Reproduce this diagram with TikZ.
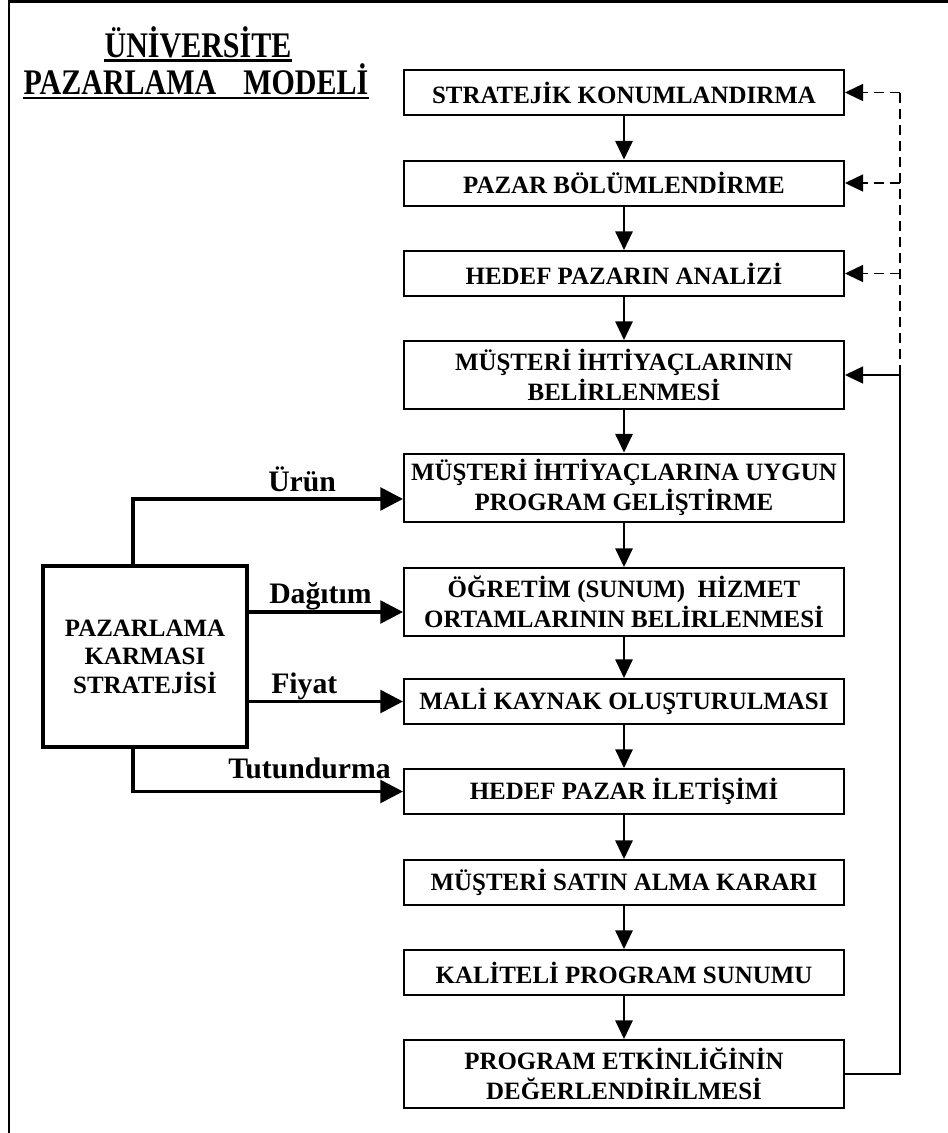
\documentclass[tikz,border=0pt]{standalone}
\usepackage{fontspec}
\setmainfont{Liberation Serif}
\usetikzlibrary{arrows.meta}
\begin{document}
\begin{tikzpicture}[x=0.75pt,y=-0.75pt,
  flowbox/.style={draw,line width=1.5pt,minimum width=330pt,inner sep=0pt,align=center,
    font=\fontsize{18.7}{22.5}\selectfont\bfseries},
  single/.style={flowbox,minimum height=33.75pt},
  double/.style={flowbox,minimum height=51pt},
  mixbox/.style={draw,line width=2.4pt,minimum width=153pt,minimum height=135.75pt,inner sep=0pt,
    align=center,font=\fontsize{18.7}{21.4}\selectfont\bfseries},
  flowarrow/.style={line width=1.5pt,-{Triangle[length=14pt,width=13pt]}},
  mixarrow/.style={line width=2.7pt,-{Triangle[length=17pt,width=17pt]}},
  fbline/.style={line width=1.1pt},
  fbdash/.style={line width=1.1pt,dash pattern=on 7.5pt off 4.5pt},
  fbtip/.style={-{Triangle[length=13.5pt,width=12.75pt]}},
  lbl/.style={anchor=base west,inner sep=0pt,font=\fontsize{22.3}{26}\selectfont\bfseries},
  ttl/.style={anchor=base,inner sep=0pt,font=\fontsize{22.5}{26}\selectfont\bfseries}
]
\useasboundingbox (0,0) rectangle (948,1133);

% outer frame (top and left edges)
\draw[line width=2pt] (948,1.2) -- (9,1.2) -- (9,1133);

% title
\node[ttl] (t1) at (198,57) {\scalebox{1}[1.2]{ÜNİVERSİTE}};
\node[ttl] (t2) at (196,94) {\scalebox{1}[1.2]{PAZARLAMA\hspace{0.9em}MODELİ}};
\draw[line width=2.2pt] ([yshift=-2.6pt]t1.base west) -- ([yshift=-2.6pt]t1.base east);
\draw[line width=2.2pt] ([yshift=-3pt]t2.base west) -- ([yshift=-3pt]t2.base east);

% flow boxes
\node[single] (b1) at (624,92.5) {STRATEJİK KONUMLANDIRMA};
\node[single] (b2) at (624,183) {PAZAR BÖLÜMLENDİRME};
\node[single] (b3) at (624,273.5) {HEDEF PAZARIN ANALİZİ};
\node[double] (b4) at (624,375) {MÜŞTERİ İHTİYAÇLARININ\\BELİRLENMESİ};
\node[double] (b5) at (624,487.5) {MÜŞTERİ İHTİYAÇLARINA UYGUN\\PROGRAM GELİŞTİRME};
\node[double] (b6) at (624,602) {ÖĞRETİM (SUNUM)\ \ HİZMET\\ORTAMLARININ BELİRLENMESİ};
\node[single] (b7) at (624,701.5) {MALİ KAYNAK OLUŞTURULMASI};
\node[single] (b8) at (624,791.5) {HEDEF PAZAR İLETİŞİMİ};
\node[single] (b9) at (624,882.5) {MÜŞTERİ SATIN ALMA KARARI};
\node[single] (b10) at (624,972.5) {KALİTELİ PROGRAM SUNUMU};
\node[double] (b11) at (624,1074) {PROGRAM ETKİNLİĞİNİN\\DEĞERLENDİRİLMESİ};

\foreach \a/\b in {b1/b2,b2/b3,b3/b4,b4/b5,b5/b6,b6/b7,b7/b8,b8/b9,b9/b10,b10/b11}
  \draw[flowarrow] (\a.south) -- (\b.north);

% marketing mix box
\node[mixbox] (mk) at (145,656.5) {PAZARLAMA\\KARMASI\\STRATEJİSİ};

\coordinate (d5) at ([yshift=-8.6pt]b5.west);
\coordinate (d6) at ([yshift=-7.5pt]b6.west);
\draw[mixarrow] ([xshift=-9pt]mk.north) |- (d5);
\draw[mixarrow] (mk.east |- d6) -- (d6);
\draw[mixarrow] (mk.east |- b7.west) -- (b7.west);
\draw[mixarrow] ([xshift=-9pt]mk.south) |- (b8.west);

\node[lbl] (l1) at (268,491) {Ürün};
\node[lbl] (l2) at (269,603) {Dağıtım};
\node[lbl] (l3) at (271,693) {Fiyat};
\node[lbl] (l4) at (228,778) {Tutundurma};

% feedback loop
\coordinate (r1) at (900,92.5);
\coordinate (r2) at (900,183);
\coordinate (r3) at (900,273.5);
\coordinate (r4) at (900,375);
\coordinate (r11) at (900,1074);
\draw[fbline] (b11.east) -- (r11) -- (r4);
\draw[fbline,fbtip] (r4) -- (b4.east);
\draw[fbdash] (r4) -- (r1);
\draw[fbdash,fbtip] (r1) -- (b1.east);
\draw[fbdash,fbtip] (r2) -- (b2.east);
\draw[fbdash,fbtip] (r3) -- (b3.east);
\end{tikzpicture}
\end{document}
